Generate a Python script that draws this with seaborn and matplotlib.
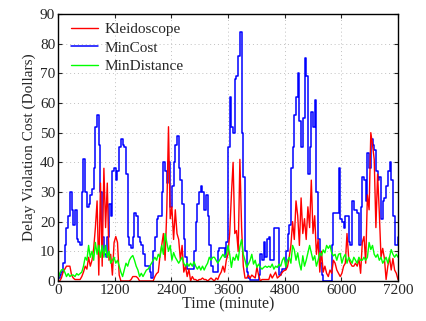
import numpy as np
import pandas as pd
import matplotlib
matplotlib.use('Agg')
import matplotlib.pyplot as plt
import seaborn as sns

# time axis, one sample every 36 minutes
time_min = np.arange(0, 7201, 36)

# MinCost (blue)
mincost = [
    1, 2, 3, 6, 12, 18, 22, 30, 24, 19,
    24, 14, 13, 12, 30, 41, 30, 25, 26, 29,
    31, 38, 52, 56, 46, 30, 15, 9, 8, 15,
    26, 22, 37, 38, 34, 37, 45, 48, 46, 45,
    36, 15, 12, 11, 15, 23, 22, 15, 13, 12,
    9, 5, 5, 5, 3, 1, 10, 15, 21, 22,
    22, 30, 40, 37, 33, 40, 25, 32, 40, 46,
    49, 38, 34, 26, 14, 8, 4, 4, 4, 4,
    10, 20, 26, 30, 32, 30, 24, 29, 22, 12,
    5, 3, 3, 3, 10, 11, 11, 11, 8, 13,
    45, 62, 52, 50, 68, 69, 76, 84, 50, 35,
    10, 3, 1, 0.5, 0.5, 0.5, 0.5, 0.5, 2, 9,
    7, 13, 8, 14, 15, 7, 7, 18, 18, 18,
    2, 3, 4, 4, 10, 16, 19, 38, 45, 56,
    62, 70, 54, 45, 55, 75, 69, 36, 45, 57,
    52, 61, 30, 14, 6, 2, 0, 0, 0, 0,
    0, 12, 23, 23, 23, 38, 21, 20, 18, 22,
    22, 13, 12, 27, 24, 24, 23, 12, 25, 35,
    34, 27, 43, 38, 48, 46, 44, 37, 34, 35,
    21, 27, 28, 32, 37, 40, 34, 22, 12, 12,
    15,
]

# Kleidoscope (red)
kleidoscope = [
    0, 0, 1, 3, 4, 5, 5, 5, 2, 1,
    0.5, 0.5, 0.5, 0.5, 1.5, 3, 5, 4, 8, 5,
    7, 11, 18, 27, 2, 33, 5, 38, 18, 33,
    7, 9, 2, 13, 15, 13, 2, 0, 0, 0,
    0, 0, 0, 0.5, 1.5, 1.5, 1.5, 1, 0, 0,
    0, 0, 0, 0, 0, 0, 0, 1.5, 2.5, 3,
    8.5, 12, 16, 7, 24, 52, 21, 25, 14, 24,
    16, 14, 7, 12, 3, 5, 1.5, 4, 0, 1.5,
    0.5, 0.5, 0, 0.5, 0.5, 1, 0.5, 0.5, 0, 0.5,
    1, 0.5, 0, 1, 0.5, 2, 3, 5, 3, 7,
    9, 16, 29, 40, 16, 17, 10, 41, 18, 5,
    1, 1, 2, 1, 2, 1.5, 1, 4.6, 2, 0,
    0.5, 0.5, 0.5, 0.5, 0.5, 2.3, 1, 2, 3, 1,
    1.5, 2, 3, 3.5, 3.7, 4.8, 8, 12, 20, 14,
    27, 22, 12, 28, 16, 21, 14, 25, 18, 34,
    16, 22, 9, 14, 3, 10, 3, 5, 2.6, 1.5,
    3.7, 2.6, 7, 6, 3.7, 2.6, 1.5, 2.6, 5, 6,
    16, 7.6, 6, 5, 5, 6, 5, 7.6, 2.6, 13,
    15, 6, 29, 24, 50, 46, 41, 18, 36, 23,
    8, 11, 7.6, 0.5, 5, 8, 3.7, 7.6, 3.7, 2.6,
    0.5,
]

# MinDistance (green)
mindistance = [
    0.5, 2.6, 3.7, 4, 3, 1.5, 2.5, 1.5, 2, 2,
    1.5, 2.5, 2, 2.5, 3, 5, 8, 7, 12, 8,
    10, 7, 13, 9, 12, 8, 12, 8, 12, 8,
    10, 6, 7, 8, 6, 7, 5, 3, 1.5, 3.7,
    6, 5, 7, 8, 8.6, 7, 5, 3.7, 1.5, 2.6,
    1.5, 2.6, 3.7, 4, 5, 6, 7, 8, 7, 9,
    8, 12, 9, 16, 13, 10, 12, 7, 9.6, 8,
    7, 6, 7, 8, 6, 5, 6, 5, 6, 5,
    6.5, 5, 4, 5, 3.7, 5, 3.7, 5, 6, 8,
    7, 8, 8, 7, 6, 7, 8, 9, 8, 9,
    12, 9, 4.6, 8, 7, 9, 7, 11.6, 14, 9,
    7, 4.6, 5.7, 7, 9, 5.7, 7, 4.6, 5.7, 4.6,
    4, 4.6, 5, 4.6, 5, 4.6, 5.7, 4, 5, 4.6,
    5.7, 5, 7, 8, 4.8, 7, 8, 6, 12, 10.5,
    7, 9.5, 6, 3.7, 8.5, 5, 7, 9.5, 12, 9.5,
    7, 8.5, 5, 7, 9.5, 8.5, 10.5, 9.5, 12, 11,
    12, 9.5, 8.5, 9, 7, 9, 9.3, 6, 8, 9,
    6, 8, 7, 6, 8, 7, 6, 8, 7, 7,
    8, 7, 8, 13, 10.6, 12, 9, 8, 9, 7,
    8, 6, 7, 8, 6, 8, 10.6, 9, 8, 9,
    8,
]

df = pd.DataFrame({'Time': time_min, 'Kleidoscope': kleidoscope,
                   'MinCost': mincost, 'MinDistance': mindistance})

sns.set_style('ticks')
plt.rcParams['font.family'] = ['Liberation Serif', 'DejaVu Serif']

fig = plt.figure(figsize=(4.27, 3.21), dpi=100)
ax = fig.add_axes([0.1358, 0.1246, 0.7963, 0.8318])

sns.lineplot(data=df, x='Time', y='MinCost', color='#0000ff', lw=1.1,
             drawstyle='steps-post', ax=ax, label='MinCost')
sns.lineplot(data=df, x='Time', y='Kleidoscope', color='#ff0000', lw=1.0,
             ax=ax, label='Kleidoscope')
sns.lineplot(data=df, x='Time', y='MinDistance', color='#00ff00', lw=1.0,
             ax=ax, label='MinDistance')

ax.set_xlim(0, 7200)
ax.set_ylim(0, 90)
ax.set_xticks(np.arange(0, 7201, 1200))
ax.set_yticks(np.arange(0, 91, 10))
ax.grid(True, linestyle=(0, (1, 3)), color='#c0c0c0', linewidth=0.7)
ax.tick_params(direction='in', top=True, right=True, labelsize=11, length=3,
               width=0.8, pad=2)
for s in ax.spines.values():
    s.set_linewidth(1.0)
    s.set_color('black')
ax.set_xlabel('Time (minute)', fontsize=11.5, labelpad=0)
ax.set_ylabel('Delay Violation Cost (Dollars)', fontsize=11, labelpad=3)

h, l = ax.get_legend_handles_labels()
order = [l.index('Kleidoscope'), l.index('MinCost'), l.index('MinDistance')]
ax.legend([h[i] for i in order], [l[i] for i in order], loc='upper left',
          frameon=False, fontsize=11, handlelength=1.8, handletextpad=0.4,
          labelspacing=0.3, borderaxespad=0.0, bbox_to_anchor=(0.02, 0.99))

fig.savefig('out.png', dpi=100)
